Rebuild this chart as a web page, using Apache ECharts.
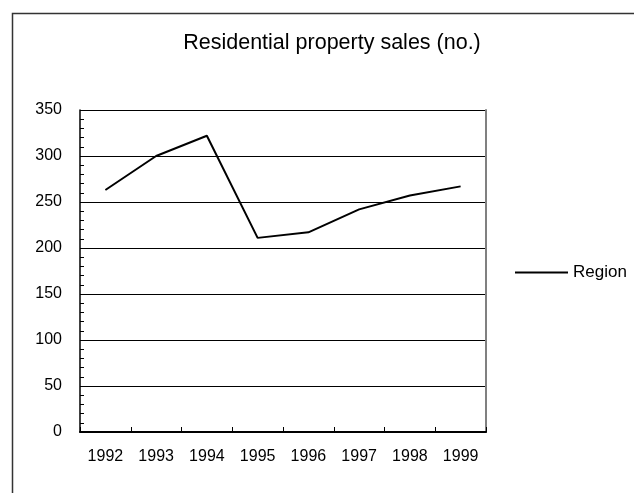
<!DOCTYPE html>
<html>
<head>
<meta charset="utf-8">
<script src="https://cdn.jsdelivr.net/npm/echarts@6/dist/echarts.min.js"></script>
<style>
html,body{margin:0;padding:0;background:#fff;}
#c{width:634px;height:493px;}
</style>
</head>
<body>
<div id="c"></div>
<script>
const categories = ['1992','1993','1994','1995','1996','1997','1998','1999'];
const regionValues = [263, 300, 322, 211, 217, 242, 257, 267];
const yTicks = [0, 50, 100, 150, 200, 250, 300, 350];
const titleText = 'Residential property sales (no.)';
const seriesName = 'Region';

const FONT = '"Liberation Sans", Arial, sans-serif';
const chart = echarts.init(document.getElementById('c'), null, {renderer: 'canvas'});
chart.setOption({
  backgroundColor: '#fff',
  animation: false,
  textStyle: {fontFamily: FONT, color: '#000'},
  graphic: [{
    type: 'rect', left: 10, top: 11, silent: true, z: -10,
    shape: {width: 700, height: 600},
    style: {fill: 'none', stroke: '#333', lineWidth: 1.5}
  }],
  title: {
    text: titleText,
    left: 327, top: 27, textAlign: 'center',
    textStyle: {fontFamily: FONT, fontSize: 21.5, fontWeight: 'normal', color: '#000'}
  },
  legend: {
    data: [seriesName],
    left: 515, top: 264, padding: 0,
    itemWidth: 53, itemHeight: 14,
    icon: 'path://M0,0 L53,0 L53,2 L0,2 Z',
    textStyle: {fontFamily: FONT, fontSize: 17, color: '#000'}
  },
  grid: {left: 80, right: 148, top: 110, bottom: 61, containLabel: false},
  xAxis: {
    type: 'category', data: categories, boundaryGap: true,
    axisLine: {lineStyle: {color: '#000', width: 2}},
    axisTick: {show: true, inside: true, length: 5, alignWithLabel: false, lineStyle: {color: '#000'}},
    axisLabel: {margin: 17, fontSize: 16, color: '#000', fontFamily: FONT, interval: 0},
    splitLine: {show: false}
  },
  yAxis: [{
    type: 'value', min: yTicks[0], max: yTicks[yTicks.length - 1], interval: 50,
    axisLine: {show: true, lineStyle: {color: '#000', width: 1.5}},
    axisTick: {show: true, inside: true, length: 5, lineStyle: {color: '#000'}},
    minorTick: {show: true, splitNumber: 5, length: 4, lineStyle: {color: '#000'}},
    axisLabel: {margin: 18, fontSize: 16, color: '#000', fontFamily: FONT},
    splitLine: {show: true, lineStyle: {color: '#000', width: 1}}
  }, {
    type: 'value', position: 'right', min: yTicks[0], max: yTicks[yTicks.length - 1], interval: 50,
    axisLine: {show: true, lineStyle: {color: '#808080', width: 2}},
    axisTick: {show: false}, axisLabel: {show: false}, splitLine: {show: false}
  }],
  series: [{
    name: seriesName, type: 'line', data: regionValues,
    yAxisIndex: 0,
    symbol: 'none', showSymbol: false,
    lineStyle: {color: '#000', width: 2},
    itemStyle: {color: '#000'}
  }]
});
</script>
</body>
</html>
